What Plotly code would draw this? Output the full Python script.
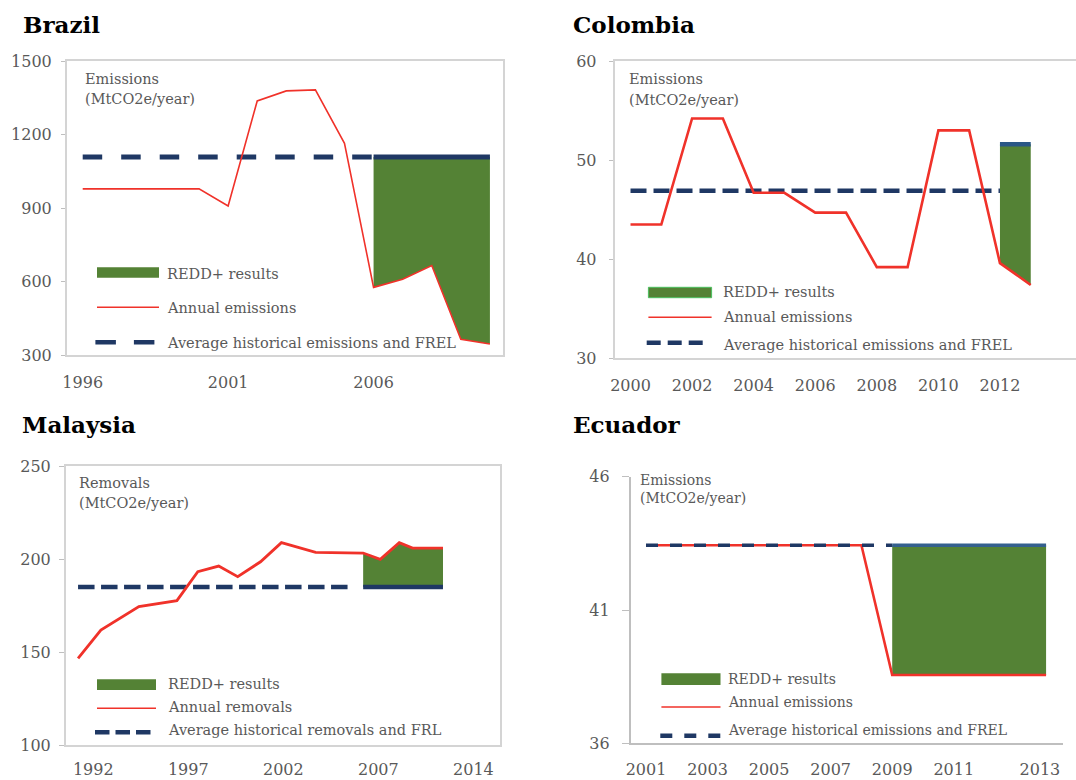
import plotly.graph_objs as go

W, H = 1076, 780
FONT = "DejaVu Serif"
GREY = "#595959"
RED = "#f0322a"
GREEN = "#548235"
NAVY = "#1f3864"

# ---- data ----
brazil_years = [1996, 1997, 1998, 1999, 2000, 2001, 2002, 2003, 2004, 2005, 2006, 2007, 2008, 2009, 2010]
brazil_emis = [978, 978, 978, 978, 978, 908, 1337, 1378, 1382, 1164, 576, 609, 665, 364, 345]
brazil_hist_years = [1996, 2006]
brazil_frel_years = [2006, 2010]
brazil_frel = 1108
brazil_yticks = [300, 600, 900, 1200, 1500]
brazil_xticks = [1996, 2001, 2006]

colombia_years = [2000, 2001, 2002, 2003, 2004, 2005, 2006, 2007, 2008, 2009, 2010, 2011, 2012, 2013]
colombia_emis = [43.5, 43.5, 54.2, 54.2, 46.7, 46.7, 44.7, 44.7, 39.2, 39.2, 53.0, 53.0, 39.6, 37.4]
colombia_hist_years = [2000, 2012]
colombia_hist = 46.9
colombia_frel_years = [2012, 2013]
colombia_frel = 51.6
colombia_yticks = [30, 40, 50, 60]
colombia_xticks = [2000, 2002, 2004, 2006, 2008, 2010, 2012]

malaysia_years = [1991.2, 1992.4, 1994.4, 1996.4, 1997.5, 1998.6, 1999.6, 2000.8, 2001.9,
                  2003.7, 2006.2, 2007.1, 2008.1, 2008.8, 2010.4]
malaysia_rem = [146.6, 161.8, 174.4, 177.6, 193.2, 196.2, 190.5, 198.5, 208.8,
                203.6, 203.2, 199.8, 208.8, 205.9, 205.9]
malaysia_hist_years = [1991.2, 2005.4]
malaysia_frel_years = [2006.2, 2010.4]
malaysia_frl = 185
malaysia_yticks = [100, 150, 200, 250]
malaysia_xtickvals = [1992, 1997, 2002, 2007, 2012]
malaysia_xticktext = ["1992", "1997", "2002", "2007", "2014"]

ecuador_years = [2001, 2002, 2003, 2004, 2005, 2006, 2007, 2008, 2009, 2010, 2011, 2012, 2013, 2014]
ecuador_emis = [43.43, 43.43, 43.43, 43.43, 43.43, 43.43, 43.43, 43.43,
                38.56, 38.56, 38.56, 38.56, 38.56, 38.56]
ecuador_hist_years = [2001, 2009]
ecuador_frel_years = [2009, 2014]
ecuador_frel = 43.43
ecuador_yticks = [36, 41, 46]
ecuador_xtickvals = [2001, 2003, 2005, 2007, 2009, 2011, 2013.8]
ecuador_xticktext = ["2001", "2003", "2005", "2007", "2009", "2011", "2013"]


def px(x):
    return x / W


def py(y):
    return 1 - y / H


fig = go.Figure()


def add_panel(n, years, values, hist_years, hist_val, frel_years, frel_val, start,
              red_w, dash, dash_w, solid_col, red_on_top=True):
    xa, ya = ("x", "y") if n == 1 else ("x%d" % n, "y%d" % n)
    ry = [y for y in years if y >= start]
    rv = [v for y, v in zip(years, values) if y >= start]
    # green REDD+ area between FREL and annual line
    fig.add_trace(go.Scatter(x=ry, y=[frel_val] * len(ry), mode="lines", line=dict(width=0),
                             xaxis=xa, yaxis=ya, hoverinfo="skip"))
    fig.add_trace(go.Scatter(x=ry, y=rv, mode="lines", line=dict(width=0), fill="tonexty",
                             fillcolor=GREEN, xaxis=xa, yaxis=ya, hoverinfo="skip"))
    red = go.Scatter(x=years, y=values, mode="lines", line=dict(color=RED, width=red_w),
                     xaxis=xa, yaxis=ya)
    if not red_on_top:
        fig.add_trace(red)
    fig.add_trace(go.Scatter(x=hist_years, y=[hist_val, hist_val], mode="lines",
                             line=dict(color=NAVY, width=dash_w, dash=dash), xaxis=xa, yaxis=ya))
    fig.add_trace(go.Scatter(x=frel_years, y=[frel_val, frel_val], mode="lines",
                             line=dict(color=solid_col, width=dash_w), xaxis=xa, yaxis=ya))
    if red_on_top:
        fig.add_trace(red)


add_panel(1, brazil_years, brazil_emis, brazil_hist_years, brazil_frel, brazil_frel_years,
          brazil_frel, 2006, 1.6, "19.5px,19px", 5, NAVY)
add_panel(2, colombia_years, colombia_emis, colombia_hist_years, colombia_hist, colombia_frel_years,
          colombia_frel, 2012, 2.6, "16px,7px", 4.5, "#2a5786")
add_panel(3, malaysia_years, malaysia_rem, malaysia_hist_years, malaysia_frl, malaysia_frel_years,
          malaysia_frl, 2006.2, 2.8, "16.5px,6.5px", 4.5, NAVY)
add_panel(4, ecuador_years, ecuador_emis, ecuador_hist_years, ecuador_frel, ecuador_frel_years,
          ecuador_frel, 2009, 2.6, "12px,12px", 3.5, "#34608e", red_on_top=False)

tickfont = dict(family=FONT, size=16, color=GREY)


def xax(n, dom, rng, vals, text=None, mirror=False, standoff=12):
    return dict(domain=[px(dom[0]), px(dom[1])], range=rng, tickvals=vals, anchor="y%s" % n,
                ticktext=text if text else [str(v) for v in vals], showgrid=False, zeroline=False,
                showline=True, linecolor="#d4d4d4", linewidth=1.5, mirror=mirror, ticks="",
                tickfont=tickfont, ticklabelstandoff=standoff, automargin=False)


def yax(n, dom, rng, vals, mirror=False, ticklen=4, standoff=6):
    return dict(domain=[py(dom[1]), py(dom[0])], range=rng, tickvals=vals, anchor="x%s" % n,
                showgrid=False, zeroline=False, showline=True, linecolor="#d4d4d4", linewidth=1.5,
                mirror=mirror, ticks="outside", ticklen=ticklen, tickcolor="#bfbfbf", tickwidth=1.2,
                tickfont=tickfont, ticklabelstandoff=standoff, automargin=False)


fig.update_layout(
    width=W, height=H, margin=dict(l=0, r=0, t=0, b=0, pad=0, autoexpand=False),
    paper_bgcolor="white", plot_bgcolor="white", showlegend=False,
    xaxis=xax("", (66.7, 503.3), [1995.45, 2010.46], brazil_xticks, mirror=True),
    yaxis=yax("", (61, 355), [300, 1500], brazil_yticks, mirror=True),
    xaxis2=xax(2, (614.5, 1076), [1999.48, 2014.47], colombia_xticks, mirror=True),
    yaxis2=yax(2, (61, 358.3), [30, 60], colombia_yticks, standoff=9),
    xaxis3=xax(3, (65.7, 500), [1990.55, 2013.4], malaysia_xtickvals, malaysia_xticktext,
               mirror=True, standoff=9),
    yaxis3=yax(3, (466, 745), [100, 250], malaysia_yticks, mirror=True, ticklen=5, standoff=5),
    xaxis4=xax(4, (630.6, 1062.7), [2000.5, 2014.54], ecuador_xtickvals, ecuador_xticktext, standoff=11),
    yaxis4=yax(4, (476.7, 743.3), [36, 46], ecuador_yticks, ticklen=7, standoff=9),
)
fig.update_layout(xaxis4_linecolor="#bfbfbf", yaxis4_linecolor="#bfbfbf")

# ---- titles, unit labels, hand-made legends ----
titles = [("Brazil", 22, 25), ("Colombia", 572, 25), ("Malaysia", 21, 425), ("Ecuador", 572, 425)]
for t, x, y in titles:
    fig.add_annotation(text="<b>%s</b>" % t, x=px(x), y=py(y), xref="paper", yref="paper",
                       xanchor="left", yanchor="middle", showarrow=False, borderpad=0,
                       font=dict(family=FONT, size=23, color="black"))

units = [("Emissions", 84, 79, 99, 14.5), ("Emissions", 628, 79, 100, 14.5),
         ("Removals", 78, 483, 503, 14.5), ("Emissions", 639, 480, 498, 14)]
for lab, x, y1, y2, fs in units:
    for txt, yy in ((lab, y1), ("(MtCO2e/year)", y2)):
        fig.add_annotation(text=txt, x=px(x), y=py(yy), xref="paper", yref="paper",
                           xanchor="left", yanchor="middle", showarrow=False, borderpad=0,
                           font=dict(family=FONT, size=fs, color=GREY))

# legend: (x0, x1, green y0, y1, red y, dash y, dash x0, x1, dash pattern, text x, text ys, labels, size)
legends = [
    (97, 159, 267.3, 277.7, 307.3, 342.3, 95.4, 155, "20.5px,18px", 166, (274, 308, 343.3),
     ("REDD+ results", "Annual emissions", "Average historical emissions and FREL"), 14.5, None),
    (648.4, 711.6, 287.3, 297.7, 317.3, 342.7, 646.7, 706.8, "14px,7px", 722, (292.3, 316.7, 345),
     ("REDD+ results", "Annual emissions", "Average historical emissions and FREL"), 14.5, "#4cc060"),
    (97, 156, 679.3, 690, 708.3, 732.3, 95, 151.7, "14.5px,6px", 166.5, (684, 706.7, 730),
     ("REDD+ results", "Annual removals", "Average historical removals and FRL"), 14.5, None),
    (661.4, 720.5, 673.3, 685, 707, 735.7, 660.3, 721.2, "12px,12px", 727.4, (679.3, 702.3, 730),
     ("REDD+ results", "Annual emissions", "Average historical emissions and FREL"), 14, None),
]
for (x0, x1, g0, g1, ry, dy, d0, d1, dpat, tx, tys, labels, fs, edge) in legends:
    fig.add_shape(type="rect", xref="paper", yref="paper", x0=px(x0), x1=px(x1), y0=py(g1), y1=py(g0),
                  fillcolor=GREEN, line=dict(color=edge if edge else GREEN, width=1 if edge else 0))
    fig.add_shape(type="line", xref="paper", yref="paper", x0=px(x0), x1=px(x1), y0=py(ry), y1=py(ry),
                  line=dict(color=RED, width=1.6))
    fig.add_shape(type="line", xref="paper", yref="paper", x0=px(d0), x1=px(d1), y0=py(dy), y1=py(dy),
                  line=dict(color=NAVY, width=4.5, dash=dpat))
    for txt, yy in zip(labels, tys):
        fig.add_annotation(text=txt, x=px(tx), y=py(yy), xref="paper", yref="paper",
                           xanchor="left", yanchor="middle", showarrow=False, borderpad=0,
                           font=dict(family=FONT, size=fs, color=GREY))

# page body has a default 8px margin; drop it so the 1076x780 figure fills the window
fig.write_html("out.html", config={"displayModeBar": False},
               post_script="document.body.style.margin='0';")
